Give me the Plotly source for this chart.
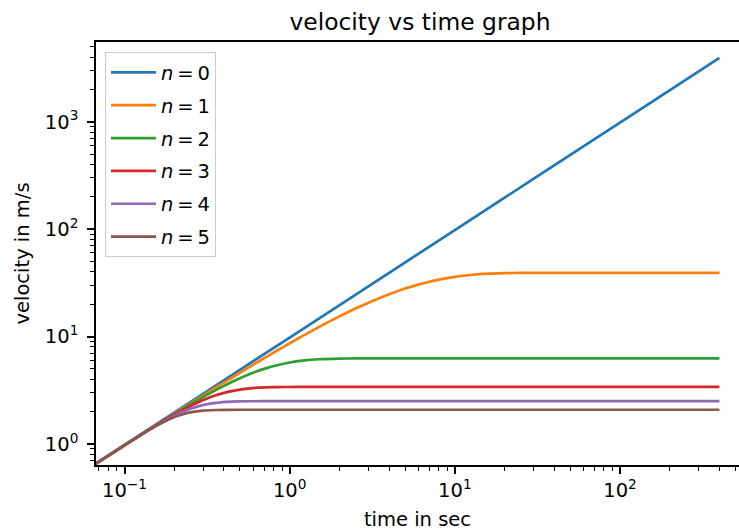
import plotly.graph_objects as go

# ---- data ----
t_n0 = [0.06, 0.1, 1, 10, 100, 400]
v_n0 = [0.588, 0.98, 9.8, 98, 980, 3920]

t_n1 = [0.06, 0.1, 0.16, 0.2, 0.25, 0.3, 0.4, 0.5, 0.6, 0.7, 0.85, 1, 1.2, 1.5, 2,
        2.5, 3, 4, 5, 6, 7, 8, 10, 12, 15, 20, 25, 30, 40, 50, 100, 400]
v_n1 = [0.584, 0.968, 1.537, 1.912, 2.375, 2.833, 3.730, 4.606, 5.460, 6.293, 7.504,
        8.671, 10.160, 12.258, 15.424, 18.218, 20.683, 24.779, 27.969, 30.453, 32.388,
        33.895, 35.982, 37.248, 38.278, 38.936, 39.124, 39.178, 39.198, 39.2, 39.2, 39.2]

t_n2 = [0.06, 0.1, 0.16, 0.2, 0.25, 0.3, 0.35, 0.4, 0.5, 0.6, 0.7, 0.85, 1, 1.2, 1.5,
        2, 2.5, 3, 4, 400]
v_n2 = [0.586, 0.972, 1.536, 1.899, 2.332, 2.741, 3.124, 3.477, 4.096, 4.601, 5.002,
        5.443, 5.737, 5.975, 6.148, 6.237, 6.256, 6.260, 6.261, 6.261]

t_n3 = [0.06, 0.1047, 0.1410, 0.1792, 0.2209, 0.2689, 0.2969, 0.3295, 0.3692, 0.4224,
        0.5085, 0.6180, 0.7799, 0.9663, 1.232, 400]
v_n3 = [0.588, 1.019, 1.359, 1.699, 2.038, 2.378, 2.548, 2.718, 2.888, 3.057, 3.227,
        3.329, 3.380, 3.394, 3.397, 3.397]

t_n4 = [0.06, 0.0767, 0.1027, 0.1293, 0.1575, 0.1887, 0.2264, 0.2503, 0.2815, 0.3308,
        0.3923, 0.4822, 0.5854, 0.7324, 400]
v_n4 = [0.588, 0.751, 1.001, 1.251, 1.501, 1.752, 2.002, 2.127, 2.252, 2.377, 2.452,
        2.490, 2.4997, 2.502, 2.502]

t_n5 = [0.06, 0.1068, 0.1292, 0.1534, 0.1815, 0.1988, 0.2208, 0.2549, 0.2964, 0.3567,
        0.4254, 0.5234, 400]
v_n5 = [0.588, 1.041, 1.250, 1.458, 1.666, 1.770, 1.875, 1.979, 2.041, 2.072, 2.0808,
        2.083, 2.083]

series_names = ["<i>n</i>\u2009=\u20090", "<i>n</i>\u2009=\u20091", "<i>n</i>\u2009=\u20092",
                "<i>n</i>\u2009=\u20093", "<i>n</i>\u2009=\u20094", "<i>n</i>\u2009=\u20095"]
series_t = [t_n0, t_n1, t_n2, t_n3, t_n4, t_n5]
series_v = [v_n0, v_n1, v_n2, v_n3, v_n4, v_n5]
colors = ["#1f77b4", "#ff7f0e", "#2ca02c", "#d62728", "#9467bd", "#8c564b"]

x_tickvals = [0.1, 1, 10, 100]
x_ticktext = ["10<sup>\u22121</sup>", "10<sup>0</sup>", "10<sup>1</sup>", "10<sup>2</sup>"]
y_tickvals = [1, 10, 100, 1000]
y_ticktext = ["10<sup>0</sup>", "10<sup>1</sup>", "10<sup>2</sup>", "10<sup>3</sup>"]

x_minor = [0.07, 0.08, 0.09] + [k * 0.1 for k in range(2, 10)] + list(range(2, 10)) + \
          [k * 10 for k in range(2, 10)] + [k * 100 for k in range(2, 10)]
y_minor = [0.7, 0.8, 0.9] + list(range(2, 10)) + [k * 10 for k in range(2, 10)] + \
          [k * 100 for k in range(2, 10)] + [k * 1000 for k in range(2, 10)]

FONT = "DejaVu Sans"
fig = go.Figure()
for i, (nm, t, v, c) in enumerate(zip(series_names, series_t, series_v, colors)):
    fig.add_trace(go.Scatter(x=t, y=v, mode="lines", name=nm, legendgroup=str(i),
                             line=dict(color=c, width=2.7, shape="spline", smoothing=0.6)))

axis_common = dict(
    type="log", showline=True, linecolor="black", linewidth=1.5,
    ticks="outside", ticklen=7, tickwidth=1.5, tickcolor="black",
    tickmode="array", showgrid=False, zeroline=False,
    tickfont=dict(family=FONT, size=19.5, color="black"),
    minor=dict(tickmode="array", ticks="outside", ticklen=4, tickwidth=1.2,
               tickcolor="black", showgrid=False),
)

fig.update_layout(
    width=739, height=532,
    margin=dict(l=96, r=0, t=42, b=67),
    paper_bgcolor="white", plot_bgcolor="white",
    font=dict(family=FONT, color="black"),
    title=dict(text="velocity vs time graph", x=420 / 739, xref="container", xanchor="center",
               y=1 - 22 / 532, yref="container", yanchor="middle",
               font=dict(family=FONT, size=23.4, color="black")),
    legend=dict(x=0.014, y=0.976, xanchor="left", yanchor="top", itemwidth=45,
                bgcolor="rgba(255,255,255,0.8)", bordercolor="#cccccc", borderwidth=1,
                font=dict(family=FONT, size=19.5, color="black"), tracegroupgap=4.5),
    showlegend=True,
)
fig.update_xaxes(**axis_common, range=[-1.1726, 2.7205], mirror=True,
                 tickvals=x_tickvals, ticktext=x_ticktext,
                 title=dict(text="time in sec", font=dict(family=FONT, size=19.5), standoff=11))
fig.update_xaxes(minor_tickvals=x_minor)
fig.update_yaxes(**axis_common, range=[-0.1955, 3.742], mirror=False,
                 tickvals=y_tickvals, ticktext=y_ticktext, ticklabelstandoff=5,
                 title=dict(text="velocity in m/s", font=dict(family=FONT, size=19.5), standoff=10))
fig.update_yaxes(minor_tickvals=y_minor)

fig.write_html("out.html", config={"displayModeBar": False},
               post_script="document.body.style.margin='0px';")
